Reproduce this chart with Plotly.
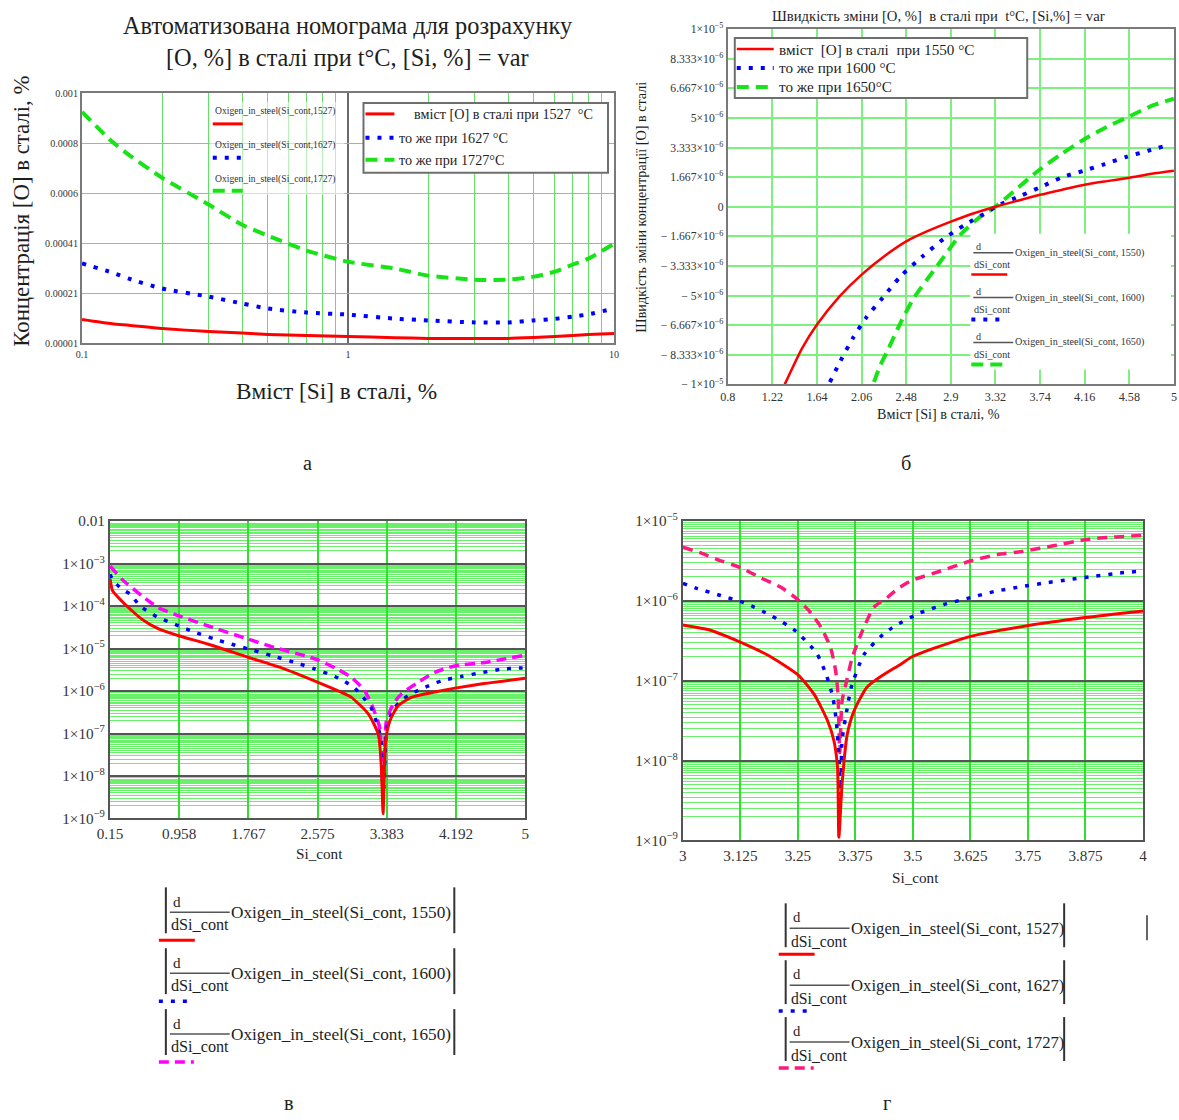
import plotly.graph_objects as go

W, H = 1179, 1120
# Positions below are written in page pixels; fx()/fy() map them onto the figure
# through the page scale and the offset of the plot div inside the page.
SX, SY = 0.9866, 0.9859
OX, OY = 11.0, 8.0
FS = 1.0 / SX

SERIF = "Liberation Serif"
INK = "#1e1e1e"
FRAME = "#7a7a7a"
DARK_GRID = "#555555"

RED = "#ff0000"
BLUE = "#0000ff"
GREEN = "#17e317"
MAGENTA = "#ff00ff"
PINK = "#ff1a7a"

# ---------------- а : [O] in steel vs [Si] (log x) ----------------
si_a = [0.1, 0.13, 0.15, 0.2, 0.3, 0.4, 0.5, 0.7, 1.0, 1.5, 2.0, 3.0, 4.0, 5.0, 6.0, 7.0, 8.0, 10.0]
o_1527 = [1.05e-4, 8.8e-5, 8.2e-5, 6.9e-5, 5.7e-5, 5.1e-5, 4.55e-5, 4.1e-5, 3.75e-5, 3.3e-5,
          3.0e-5, 2.95e-5, 3.0e-5, 3.35e-5, 3.7e-5, 4.15e-5, 4.5e-5, 4.95e-5]
o_1627 = [3.26e-4, 2.9e-4, 2.66e-4, 2.27e-4, 1.95e-4, 1.68e-4, 1.48e-4, 1.32e-4, 1.24e-4, 1.08e-4,
          1.01e-4, 9.3e-5, 9.3e-5, 1.01e-4, 1.07e-4, 1.16e-4, 1.25e-4, 1.48e-4]
o_1727 = [9.25e-4, 8.07e-4, 7.55e-4, 6.65e-4, 5.58e-4, 4.79e-4, 4.36e-4, 3.77e-4, 3.33e-4, 3.06e-4,
          2.78e-4, 2.62e-4, 2.62e-4, 2.74e-4, 2.94e-4, 3.22e-4, 3.45e-4, 4.04e-4]
a_xtick_vals = [0.1, 1, 10]
a_xtick_text = ["0.1", "1", "10"]
a_xminor_vals = [0.2, 0.3, 0.4, 0.5, 0.6, 0.7, 0.8, 0.9, 2, 3, 4, 5, 6, 7, 8, 9]
a_ytick_vals = [1e-5, 2.08e-4, 4.06e-4, 6.04e-4, 8.02e-4, 1e-3]
a_ytick_text = ["0.00001", "0.00021", "0.00041", "0.0006", "0.0008", "0.001"]

# ---------------- б : d[O]/d[Si] (linear) ----------------
si_b_1550 = [1.336, 1.5, 1.64, 1.85, 2.06, 2.27, 2.48, 2.69, 2.9, 3.11, 3.32, 3.53, 3.74, 3.95,
             4.16, 4.37, 4.58, 4.79, 5.0]
d_b_1550 = [-1.0e-5, -7.96e-6, -6.63e-6, -5.06e-6, -3.82e-6, -2.8e-6, -1.95e-6, -1.35e-6, -8.4e-7,
            -3.8e-7, 0.0, 3.4e-7, 6.7e-7, 9.6e-7, 1.24e-6, 1.44e-6, 1.63e-6, 1.85e-6, 2.02e-6]
si_b_1600 = [1.761, 1.862, 1.977, 2.103, 2.26, 2.425, 2.63, 2.833, 3.036, 3.24, 3.32, 3.553, 3.75,
             3.945, 4.147, 4.35, 4.554, 4.756, 4.966]
d_b_1600 = [-9.87e-6, -8.67e-6, -7.4e-6, -6.24e-6, -5.11e-6, -3.93e-6, -2.81e-6, -1.81e-6, -1.0e-6,
            -3.2e-7, 0.0, 6.0e-7, 1.12e-6, 1.65e-6, 2.02e-6, 2.4e-6, 2.81e-6, 3.15e-6, 3.5e-6]
si_b_1650 = [2.176, 2.238, 2.30, 2.425, 2.55, 2.8, 2.99, 3.177, 3.32, 3.488, 3.71, 3.93, 4.145,
             4.368, 4.586, 4.8, 5.0]
d_b_1650 = [-9.87e-6, -8.9e-6, -8.15e-6, -6.55e-6, -5.15e-6, -3.1e-6, -1.57e-6, -5.6e-7, 0.0,
            8.4e-7, 1.97e-6, 2.92e-6, 3.76e-6, 4.49e-6, 5.1e-6, 5.7e-6, 6.08e-6]
b_xtick_vals = [0.8, 1.22, 1.64, 2.06, 2.48, 2.9, 3.32, 3.74, 4.16, 4.58, 5.0]
b_xtick_text = ["0.8", "1.22", "1.64", "2.06", "2.48", "2.9", "3.32", "3.74", "4.16", "4.58", "5"]
b_ytick_vals = [-1e-5, -8.333e-6, -6.667e-6, -5e-6, -3.333e-6, -1.667e-6, 0,
                1.667e-6, 3.333e-6, 5e-6, 6.667e-6, 8.333e-6, 1e-5]
b_ytick_text = ["− 1×10<sup>−5</sup>", "− 8.333×10<sup>−6</sup>", "− 6.667×10<sup>−6</sup>",
                "− 5×10<sup>−6</sup>", "− 3.333×10<sup>−6</sup>", "− 1.667×10<sup>−6</sup>", "0",
                "1.667×10<sup>−6</sup>", "3.333×10<sup>−6</sup>", "5×10<sup>−6</sup>",
                "6.667×10<sup>−6</sup>", "8.333×10<sup>−6</sup>", "1×10<sup>−5</sup>"]

# ---------------- в : |d[O]/d[Si]| (log y), 0.15..5 ----------------
si_c_1550 = [0.153, 0.18, 0.29, 0.406, 0.523, 0.718, 0.955, 1.30, 1.767, 2.155, 2.58, 2.855, 2.97,
             3.167, 3.283, 3.32, 3.34, 3.37, 3.42, 3.517, 3.67, 3.944, 4.18, 4.52, 5.0]
d_c_1550 = [4.3e-4, 2.3e-4, 1.3e-4, 7.8e-5, 4.9e-5, 2.9e-5, 2.0e-5, 1.26e-5, 6.2e-6, 3.5e-6, 1.6e-6,
            9.3e-7, 7.1e-7, 2.9e-7, 9.8e-8, 1.6e-8, 1.3e-9, 6.8e-8, 2.0e-7, 4.5e-7, 7.1e-7, 9.5e-7,
            1.17e-6, 1.5e-6, 2.0e-6]
si_c_1600 = [0.15, 0.193, 0.29, 0.387, 0.503, 0.698, 0.91, 1.124, 1.36, 1.572, 1.806, 2.039, 2.31,
             2.545, 2.778, 2.894, 3.01, 3.107, 3.2, 3.283, 3.32, 3.34, 3.38, 3.42, 3.48, 3.554, 3.67,
             3.787, 4.02, 4.253, 4.51, 4.74, 4.97]
d_c_1600 = [5.6e-4, 3.9e-4, 2.5e-4, 1.9e-4, 1.0e-4, 5.6e-5, 3.7e-5, 2.5e-5, 1.7e-5, 1.26e-5, 9.3e-6,
            6.8e-6, 4.7e-6, 3.3e-6, 2.2e-6, 1.66e-6, 1.17e-6, 7.1e-7, 4.1e-7, 1.4e-7, 5.6e-8, 2.6e-9,
            1.2e-7, 2.4e-7, 4.1e-7, 5.9e-7, 8.7e-7, 1.12e-6, 1.74e-6, 2.2e-6, 2.75e-6, 3.3e-6, 3.5e-6]
si_c_1650 = [0.153, 0.29, 0.523, 0.718, 0.955, 1.30, 1.767, 2.078, 2.388, 2.58, 2.778, 2.97, 3.125,
             3.22, 3.30, 3.34, 3.38, 3.458, 3.554, 3.75, 3.944, 4.18, 4.52, 4.97]
d_c_1650 = [8.7e-4, 4.3e-4, 1.74e-4, 9.1e-5, 5.9e-5, 3.4e-5, 1.66e-5, 1.05e-5, 7.1e-6, 5.4e-6, 3.5e-6,
            2.1e-6, 1.02e-6, 4.1e-7, 1.4e-7, 5.0e-9, 2.0e-7, 4.9e-7, 8.5e-7, 1.6e-6, 2.75e-6, 3.9e-6,
            4.7e-6, 6.8e-6]
c_xtick_vals = [0.15, 0.958, 1.767, 2.575, 3.383, 4.192, 5.0]
c_xtick_text = ["0.15", "0.958", "1.767", "2.575", "3.383", "4.192", "5"]
c_ytick_vals = [1e-9, 1e-8, 1e-7, 1e-6, 1e-5, 1e-4, 1e-3, 1e-2]
c_ytick_text = ["1×10<sup>−9</sup>", "1×10<sup>−8</sup>", "1×10<sup>−7</sup>", "1×10<sup>−6</sup>",
                "1×10<sup>−5</sup>", "1×10<sup>−4</sup>", "1×10<sup>−3</sup>", "0.01"]

# ---------------- г : |d[O]/d[Si]| (log y), 3..4 ----------------
si_d_1527 = [3.0, 3.06, 3.111, 3.184, 3.249, 3.285, 3.314, 3.328, 3.336, 3.339, 3.346, 3.357, 3.372,
             3.40, 3.437, 3.473, 3.498, 3.625, 3.748, 3.874, 4.0]
d_d_1527 = [5.0e-7, 4.3e-7, 3.3e-7, 2.1e-7, 1.2e-7, 6.8e-8, 3.2e-8, 1.8e-8, 8.3e-9, 1.1e-9, 5.1e-9,
            2.1e-8, 4.2e-8, 8.3e-8, 1.2e-7, 1.6e-7, 2.0e-7, 3.6e-7, 4.9e-7, 6.2e-7, 7.5e-7]
si_d_1627 = [3.0, 3.028, 3.082, 3.137, 3.191, 3.245, 3.291, 3.312, 3.326, 3.333, 3.337, 3.34, 3.343,
             3.346, 3.357, 3.366, 3.393, 3.435, 3.462, 3.516, 3.57, 3.625, 3.679, 3.733, 3.787,
             3.842, 3.896, 3.95, 4.0]
d_d_1627 = [1.66e-6, 1.45e-6, 1.17e-6, 9.3e-7, 6.6e-7, 4.2e-7, 2.2e-7, 1.17e-7, 6.2e-8, 3.3e-8,
            1.74e-8, 9.1e-9, 3.6e-9, 1.8e-8, 4.5e-8, 8.3e-8, 2.1e-7, 3.8e-7, 4.9e-7, 7.1e-7, 9.1e-7,
            1.1e-6, 1.32e-6, 1.5e-6, 1.68e-6, 1.86e-6, 2.04e-6, 2.24e-6, 2.37e-6]
si_d_1727 = [3.0, 3.039, 3.075, 3.126, 3.169, 3.213, 3.249, 3.278, 3.30, 3.321, 3.332, 3.337, 3.341,
             3.346, 3.356, 3.368, 3.39, 3.415, 3.444, 3.466, 3.495, 3.56, 3.625, 3.683, 3.74, 3.805,
             3.878, 3.936, 4.0]
d_d_1727 = [4.7e-6, 4.0e-6, 3.3e-6, 2.6e-6, 1.95e-6, 1.48e-6, 1.05e-6, 7.1e-7, 4.7e-7, 2.6e-7,
            1.33e-7, 6.8e-8, 1.26e-8, 5.6e-8, 1.0e-7, 1.95e-7, 4.2e-7, 8.3e-7, 1.1e-6, 1.41e-6,
            1.78e-6, 2.37e-6, 3.16e-6, 3.8e-6, 4.2e-6, 4.9e-6, 5.9e-6, 6.3e-6, 6.6e-6]
d_xtick_vals = [3.0, 3.125, 3.25, 3.375, 3.5, 3.625, 3.75, 3.875, 4.0]
d_xtick_text = ["3", "3.125", "3.25", "3.375", "3.5", "3.625", "3.75", "3.875", "4"]
d_ytick_vals = [1e-9, 1e-8, 1e-7, 1e-6, 1e-5]
d_ytick_text = ["1×10<sup>−9</sup>", "1×10<sup>−8</sup>", "1×10<sup>−7</sup>", "1×10<sup>−6</sup>",
                "1×10<sup>−5</sup>"]

# minor log grid mantissas
log_minor_mant = [2, 2.5, 3, 3.5, 4, 4.5, 5, 5.5, 6, 6.5, 7, 7.5, 8, 8.5, 9, 9.5]

# legend captions
legend_a = ["вміст [O] в сталі при 1527  °C", "то же при 1627 °C", "то же при 1727°C"]
legend_b = ["вміст  [O] в сталі  при 1550 °C", "то же при 1600 °C", "то же при 1650°C"]
func_a = ["Oxigen_in_steel(Si_cont, 1527)", "Oxigen_in_steel(Si_cont, 1627)",
          "Oxigen_in_steel(Si_cont, 1727)"]
func_b = ["Oxigen_in_steel(Si_cont, 1550)", "Oxigen_in_steel(Si_cont, 1600)",
          "Oxigen_in_steel(Si_cont, 1650)"]
func_c = func_b
func_d = func_a


def fx(px):
    return min(1.0, max(0.0, (px / SX - OX) / W))


def fy(py):
    return min(1.0, max(0.0, 1 - (py / SY - OY) / H))


def fs(size):
    return round(size * FS, 2)


fig = go.Figure()

# line styles per series (color, width, dash)
S_RED = dict(color=RED, width=3)
S_BLUE = dict(color=BLUE, width=4, dash="4px,8px")
S_GREEN = dict(color=GREEN, width=4, dash="12px,7px")
S_MAG = dict(color=MAGENTA, width=3.5, dash="10px,6px")
S_PINK = dict(color=PINK, width=3.5, dash="10px,7px")


def add(x, y, style, xa, ya, name):
    fig.add_trace(go.Scatter(x=x, y=y, mode="lines", line=dict(style, shape="spline", smoothing=0.6),
                             xaxis=xa, yaxis=ya, name=name, hoverinfo="x+y"))


add(si_a, o_1727, S_GREEN, "x", "y", "1727")
add(si_a, o_1627, S_BLUE, "x", "y", "1627")
add(si_a, o_1527, dict(S_RED, width=3), "x", "y", "1527")

add(si_b_1650, d_b_1650, S_GREEN, "x2", "y2", "1650")
add(si_b_1600, d_b_1600, S_BLUE, "x2", "y2", "1600")
add(si_b_1550, d_b_1550, dict(S_RED, width=2.5), "x2", "y2", "1550")

add(si_c_1650, d_c_1650, S_MAG, "x3", "y3", "1650")
add(si_c_1600, d_c_1600, dict(S_BLUE, width=3.5), "x3", "y3", "1600")
add(si_c_1550, d_c_1550, S_RED, "x3", "y3", "1550")

add(si_d_1727, d_d_1727, S_PINK, "x4", "y4", "1727")
add(si_d_1627, d_d_1627, dict(S_BLUE, width=3.5), "x4", "y4", "1627")
add(si_d_1527, d_d_1527, S_RED, "x4", "y4", "1527")

frame = dict(showline=True, mirror=True, linecolor=FRAME, linewidth=2, zeroline=False, ticks="")
tickf = dict(family=SERIF, color="#333333")


def log_minor(lo, hi):
    return [m * 10.0 ** e for e in range(lo, hi) for m in log_minor_mant]


layout = dict(
    width=W, height=H, margin=dict(l=0, r=0, t=0, b=0), autosize=False,
    paper_bgcolor="white", plot_bgcolor="white", showlegend=False,
    xaxis=dict(frame, domain=[fx(80), fx(613)], anchor="y", type="log", range=[-1, 1],
               tickvals=a_xtick_vals, ticktext=a_xtick_text, tickfont=dict(tickf, size=fs(10)),
               showgrid=True, gridcolor="#6a6a6a", gridwidth=2,
               minor=dict(tickvals=a_xminor_vals, showgrid=True, gridcolor="#62e062", gridwidth=1)),
    yaxis=dict(frame, domain=[fy(342), fy(91)], anchor="x", range=[1e-5, 1e-3],
               tickvals=a_ytick_vals, ticktext=a_ytick_text, tickfont=dict(tickf, size=fs(10)),
               showgrid=True, gridcolor="#62e062", gridwidth=1),
    xaxis2=dict(frame, domain=[fx(727), fx(1174)], anchor="y2", range=[0.8, 5],
                tickvals=b_xtick_vals, ticktext=b_xtick_text, tickfont=dict(tickf, size=fs(12)),
                showgrid=True, gridcolor="#7ef07e", gridwidth=2),
    yaxis2=dict(frame, domain=[fy(383), fy(27)], anchor="x2", range=[-1e-5, 1e-5],
                tickvals=b_ytick_vals, ticktext=b_ytick_text, tickfont=dict(tickf, size=fs(11.5)),
                showgrid=True, gridcolor="#7ef07e", gridwidth=2),
    xaxis3=dict(frame, domain=[fx(108), fx(524)], anchor="y3", range=[0.15, 5],
                linecolor="#555555", tickvals=c_xtick_vals, ticktext=c_xtick_text,
                tickfont=dict(tickf, size=fs(15)), showgrid=True, gridcolor="#2fe02f", gridwidth=2),
    yaxis3=dict(frame, domain=[fy(818), fy(520)], anchor="x3", type="log", range=[-9, -2],
                linecolor="#555555", tickvals=c_ytick_vals, ticktext=c_ytick_text,
                tickfont=dict(tickf, size=fs(15)), showgrid=True, gridcolor=DARK_GRID, gridwidth=2,
                minor=dict(tickvals=log_minor(-9, -2), showgrid=True, gridcolor="#6af06a",
                           gridwidth=1)),
    xaxis4=dict(frame, domain=[fx(682), fx(1143)], anchor="y4", range=[3, 4],
                linecolor="#555555", tickvals=d_xtick_vals, ticktext=d_xtick_text,
                tickfont=dict(tickf, size=fs(15)), showgrid=True, gridcolor="#2fe02f", gridwidth=2),
    yaxis4=dict(frame, domain=[fy(840), fy(520)], anchor="x4", type="log", range=[-9, -5],
                linecolor="#555555", tickvals=d_ytick_vals, ticktext=d_ytick_text,
                tickfont=dict(tickf, size=fs(15)), showgrid=True, gridcolor=DARK_GRID, gridwidth=2,
                minor=dict(tickvals=log_minor(-9, -5), showgrid=True, gridcolor="#6af06a",
                           gridwidth=1)),
)
fig.update_layout(**layout)

ann = []
shapes = []


def text(px, py, s, size, xanchor="center", yanchor="middle", angle=0, color=INK):
    ann.append(dict(x=fx(px), y=fy(py), xref="paper", yref="paper", text=s, showarrow=False,
                    font=dict(size=fs(size), family=SERIF, color=color), xanchor=xanchor,
                    yanchor=yanchor, textangle=angle, borderpad=0))


def seg(x0, y0, x1, y1, line):
    shapes.append(dict(type="line", xref="paper", yref="paper", x0=fx(x0), y0=fy(y0),
                       x1=fx(x1), y1=fy(y1), line=line))


def box(x0, y0, x1, y1, fill, edge=None):
    shapes.append(dict(type="rect", xref="paper", yref="paper", x0=fx(x0), y0=fy(y1),
                       x1=fx(x1), y1=fy(y0), fillcolor=fill,
                       line=edge if edge else dict(width=0)))


# ---- titles and axis captions ----
text(346, 23, "Автоматизована номограма для розрахунку", 24)
text(346, 55, "[O, %] в сталі при t°C, [Si, %] = var", 24)
text(20, 210, "Концентрація [O] в сталі, %", 22.5, angle=-90)
text(335, 390, "Вміст [Si] в сталі, %", 23)
text(306, 462, "а", 20)

text(938, 14, "Швидкість зміни [O, %]  в сталі при  t°C, [Si,%] = var", 14.5)
text(640, 205, "Швидкість зміни концентрації [O] в сталі", 14, angle=-90)
text(938, 413, "Вміст [Si] в сталі, %", 14)
text(906, 462, "б", 20)

text(318, 853, "Si_cont", 15)
text(287, 1103, "в", 20)
text(915, 877, "Si_cont", 15)
text(887, 1103, "г", 20)

# ---- caption backgrounds inside а and б ----
box(208, 100, 343, 193, "rgba(255,255,255,0.55)")
box(970, 232, 1171, 368, "white")

# ---- boxed legends ----
styles_a = [dict(S_RED), dict(S_BLUE), dict(S_GREEN)]
box(362, 101, 607, 171, "white", dict(color="#6e6e6e", width=2))
for i, (lab, st) in enumerate(zip(legend_a, styles_a)):
    yy = [112, 136, 158][i]
    seg(364, yy, 393, yy, st)
    text(412 if i == 0 else 397, yy, lab, 14, xanchor="left")

box(734, 36, 1027, 96, "white", dict(color="#6e6e6e", width=2))
styles_b = [dict(S_RED, width=2.5), dict(S_BLUE), dict(S_GREEN)]
for i, (lab, st) in enumerate(zip(legend_b, styles_b)):
    yy = [47, 66, 85][i]
    seg(736, yy, 773, yy, st)
    text(777, yy, lab, 15, xanchor="left")

# ---- trace captions inside а ----
for i, (lab, st) in enumerate(zip(func_a, styles_a)):
    ty = [109, 143, 177][i]
    sy = [122, 156, 189][i]
    text(212, ty, lab.replace(", ", ","), 9.5, xanchor="left", color="#333333")
    seg(211, sy, 241, sy, st)

# ---- derivative captions inside б ----
for i, (lab, st) in enumerate(zip(func_b, styles_b)):
    t = 245 + 45 * i
    text(975, t, "d", 10, xanchor="left", color="#333333")
    seg(973, t + 6, 1013, t + 6, dict(color="#555555", width=1.5))
    text(973, t + 18, "dSi_cont", 10, xanchor="left", color="#333333")
    text(1014, t + 6, lab, 10, xanchor="left", color="#333333")
    seg(971, t + 28, 1007, t + 28, st)


# ---- |d/dSi| expression blocks under в and г ----
def deriv_block(left, top, right, labels, styles, step, size, h):
    for i, (lab, st) in enumerate(zip(labels, styles)):
        t = top + step * i
        seg(left, t, left, t + h, dict(color="#333333", width=2))
        seg(right, t, right, t + h, dict(color="#333333", width=2))
        text(left + 6, t + 14, "d", size - 2, xanchor="left")
        seg(left + 4, t + 25, left + 64, t + 25, dict(color="#555555", width=1.5))
        text(left + 4, t + 38, "dSi_cont", size - 1, xanchor="left")
        text(left + 64, t + 25, lab, size, xanchor="left")
        seg(left - 7, t + h + 7, left + 29, t + h + 7, st)


dash_dot = "10px,6px,10px,6px,3px,6px"
styles_c = [dict(S_RED), dict(S_BLUE, width=3.5), dict(S_MAG, dash=dash_dot)]
styles_d = [dict(S_RED), dict(S_BLUE, width=3.5), dict(S_PINK, dash=dash_dot)]
deriv_block(164, 887, 453, func_c, styles_c, 61, 17, 46)
deriv_block(785, 903, 1064, func_d, styles_d, 57, 16.5, 44)
seg(1147, 915, 1147, 940, dict(color="#333333", width=1.5))

fig.update_layout(annotations=ann, shapes=shapes)
fig.write_html("out.html")
